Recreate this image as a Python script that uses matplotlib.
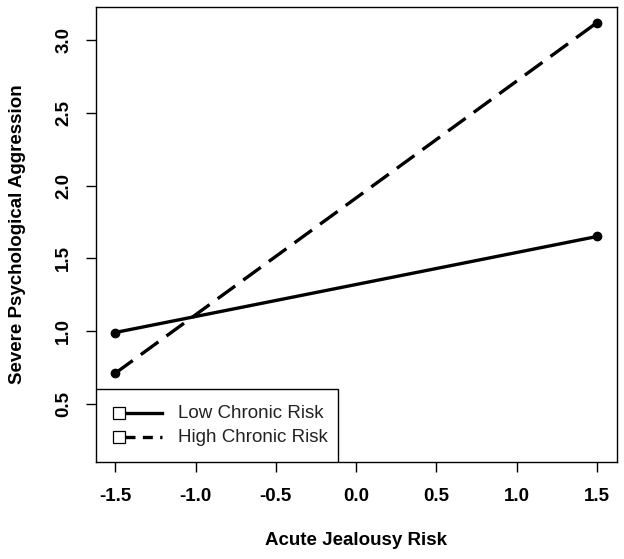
"""
Interaction plot: acute jealousy risk x chronic risk on severe psychological aggression.
"""
import matplotlib
matplotlib.use('Agg')
import matplotlib.pyplot as plt
from matplotlib.lines import Line2D
from matplotlib.patches import Rectangle

plt.rcParams['font.family'] = ['Liberation Sans', 'DejaVu Sans']

# data
acute = [-1.5, 1.5]
low_chronic = [0.99, 1.65]
high_chronic = [0.71, 3.12]
series_names = ['Low Chronic Risk', 'High Chronic Risk']
x_ticks = [-1.5, -1.0, -0.5, 0.0, 0.5, 1.0, 1.5]
y_ticks = [0.5, 1.0, 1.5, 2.0, 2.5, 3.0]

fig = plt.figure(figsize=(6.24, 5.59), dpi=100)
ax = fig.add_axes([0.1538, 0.1735, 0.9888 - 0.1538, 0.9875 - 0.1735])

lw = 2.4
fs = 13.5
ax.plot(acute, low_chronic, color='black', lw=lw, marker='o', ms=6,
        solid_capstyle='butt')
ax.plot(acute, high_chronic, color='black', lw=lw, marker='o', ms=6,
        dashes=(6.5, 3.0))

ax.set_xlim(-1.62, 1.624)
ax.set_ylim(0.10, 3.227)

ax.set_xticks(x_ticks)
ax.set_xticklabels([f'{t:.1f}' for t in x_ticks], fontweight='bold', fontsize=fs)
ax.set_yticks(y_ticks)
ax.set_yticklabels([f'{t:.1f}' for t in y_ticks], fontweight='bold', fontsize=fs,
                   rotation=90, va='center')
ax.tick_params(axis='x', direction='out', length=7, width=1, pad=12)
ax.tick_params(axis='y', direction='out', length=7, width=1, pad=10)
for s in ax.spines.values():
    s.set_linewidth(1)

ax.set_xlabel('Acute Jealousy Risk', fontweight='bold', fontsize=fs, labelpad=19)
ax.set_ylabel('Severe Psychological Aggression', fontweight='bold', fontsize=fs,
              labelpad=21)

# legend drawn R-style: open square at left end of each line sample
ax_w, ax_h = 617 - 96, 462 - 7
def px(x, y):
    return ((x - 96) / ax_w, (462 - y) / ax_h)

x0, y0 = px(96, 462)
x1, y1 = px(338, 389)
ax.add_patch(Rectangle((x0, y0), x1 - x0, y1 - y0, transform=ax.transAxes,
                       facecolor='white', edgecolor='black', lw=1, zorder=5))
styles = [dict(), dict(dashes=(3.0, 2.2))]
for i, (name, st) in enumerate(zip(series_names, styles)):
    yy = 413 + 24 * i
    a = px(125, yy)
    b = px(162, yy)
    ax.add_line(Line2D([a[0], b[0]], [a[1], b[1]], transform=ax.transAxes,
                       color='black', lw=lw, zorder=6, **st))
    m = px(119, yy)
    ax.add_line(Line2D([m[0]], [m[1]], transform=ax.transAxes, marker='s',
                       ms=9, mfc='white', mec='black', mew=0.9, zorder=7))
    t = px(178, yy)
    ax.text(t[0], t[1], name, transform=ax.transAxes, fontsize=fs,
            color='#222222', va='center', ha='left', zorder=7)

plt.savefig('out.png', dpi=100)
plt.close()
